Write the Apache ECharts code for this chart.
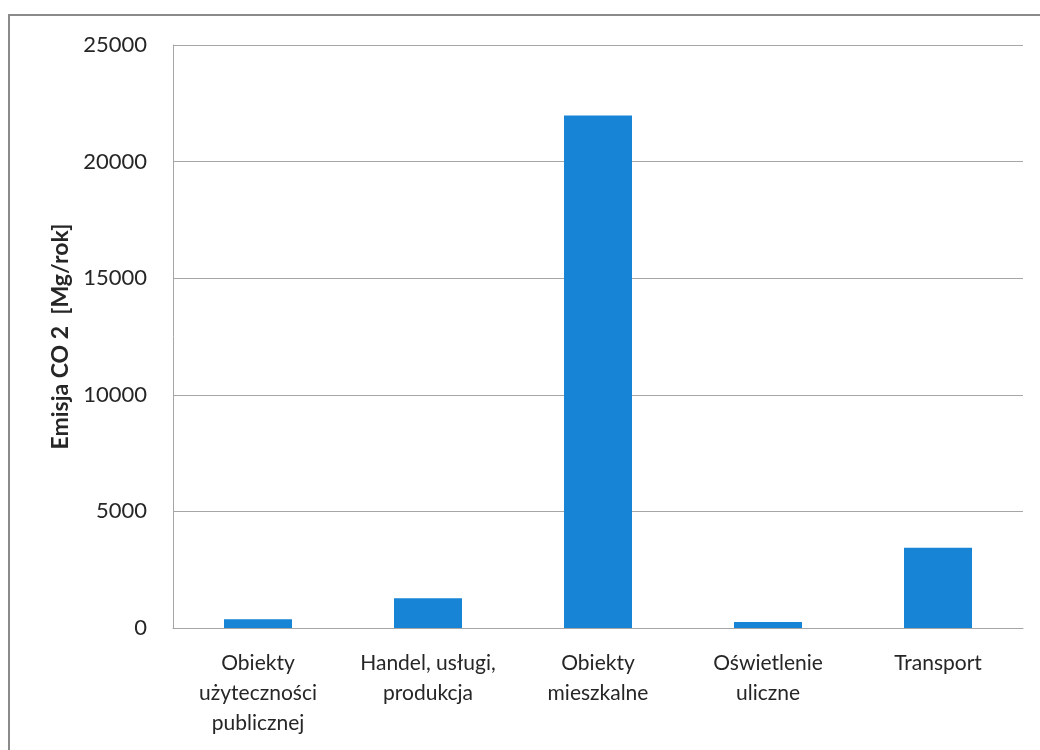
<!DOCTYPE html>
<html>
<head>
<meta charset="utf-8">
<script src="https://cdn.jsdelivr.net/npm/echarts@6/dist/echarts.min.js"></script>
<style>
  html, body { margin: 0; padding: 0; background: #ffffff; }
  #chart { width: 1040px; height: 750px; }
</style>
</head>
<body>
<div id="chart"></div>
<script>
// Sectors of CO2 emission
const categories = [
  'Obiekty\nużyteczności\npublicznej',
  'Handel, usługi,\nprodukcja',
  'Obiekty\nmieszkalne',
  'Oświetlenie\nuliczne',
  'Transport'
];
// Annual emission per sector [Mg/rok]
const emissions = [380, 1280, 21980, 260, 3440];
const yAxisName = 'Emisja CO 2  [Mg/rok]';

const chart = echarts.init(document.getElementById('chart'), null, { renderer: 'canvas' });
const fontFamily = 'Lato, "Open Sans", "DejaVu Sans", sans-serif';

chart.setOption({
  backgroundColor: '#ffffff',
  animation: false,
  graphic: [{
    type: 'rect',
    shape: { x: 9, y: 15, width: 1100, height: 800 },
    style: { fill: 'none', stroke: '#8a8a8a', lineWidth: 2 },
    silent: true
  }],
  grid: { left: 173, right: 17, top: 45, bottom: 122, containLabel: false },
  xAxis: {
    type: 'category',
    data: categories,
    axisLine: { show: true, lineStyle: { color: '#a6a6a6', width: 1 } },
    axisTick: { show: false },
    axisLabel: {
      interval: 0,
      margin: 20,
      color: '#262626',
      fontSize: 21,
      lineHeight: 30,
      fontFamily: fontFamily
    }
  },
  yAxis: {
    type: 'value',
    min: 0,
    max: 25000,
    interval: 5000,
    name: yAxisName,
    nameLocation: 'middle',
    nameGap: 100,
    nameTextStyle: { fontSize: 23, fontWeight: 'bold', color: '#262626', fontFamily: fontFamily },
    axisLine: { show: true, lineStyle: { color: '#a6a6a6', width: 1 } },
    axisTick: { show: false },
    axisLabel: {
      margin: 26,
      color: '#262626',
      fontSize: 22,
      fontFamily: fontFamily,
      formatter: v => String(v)
    },
    splitLine: { show: true, lineStyle: { color: '#a6a6a6', width: 1 } }
  },
  series: [{
    type: 'bar',
    data: emissions,
    barWidth: '40%',
    itemStyle: { color: '#1784d6' }
  }]
});
</script>
</body>
</html>
